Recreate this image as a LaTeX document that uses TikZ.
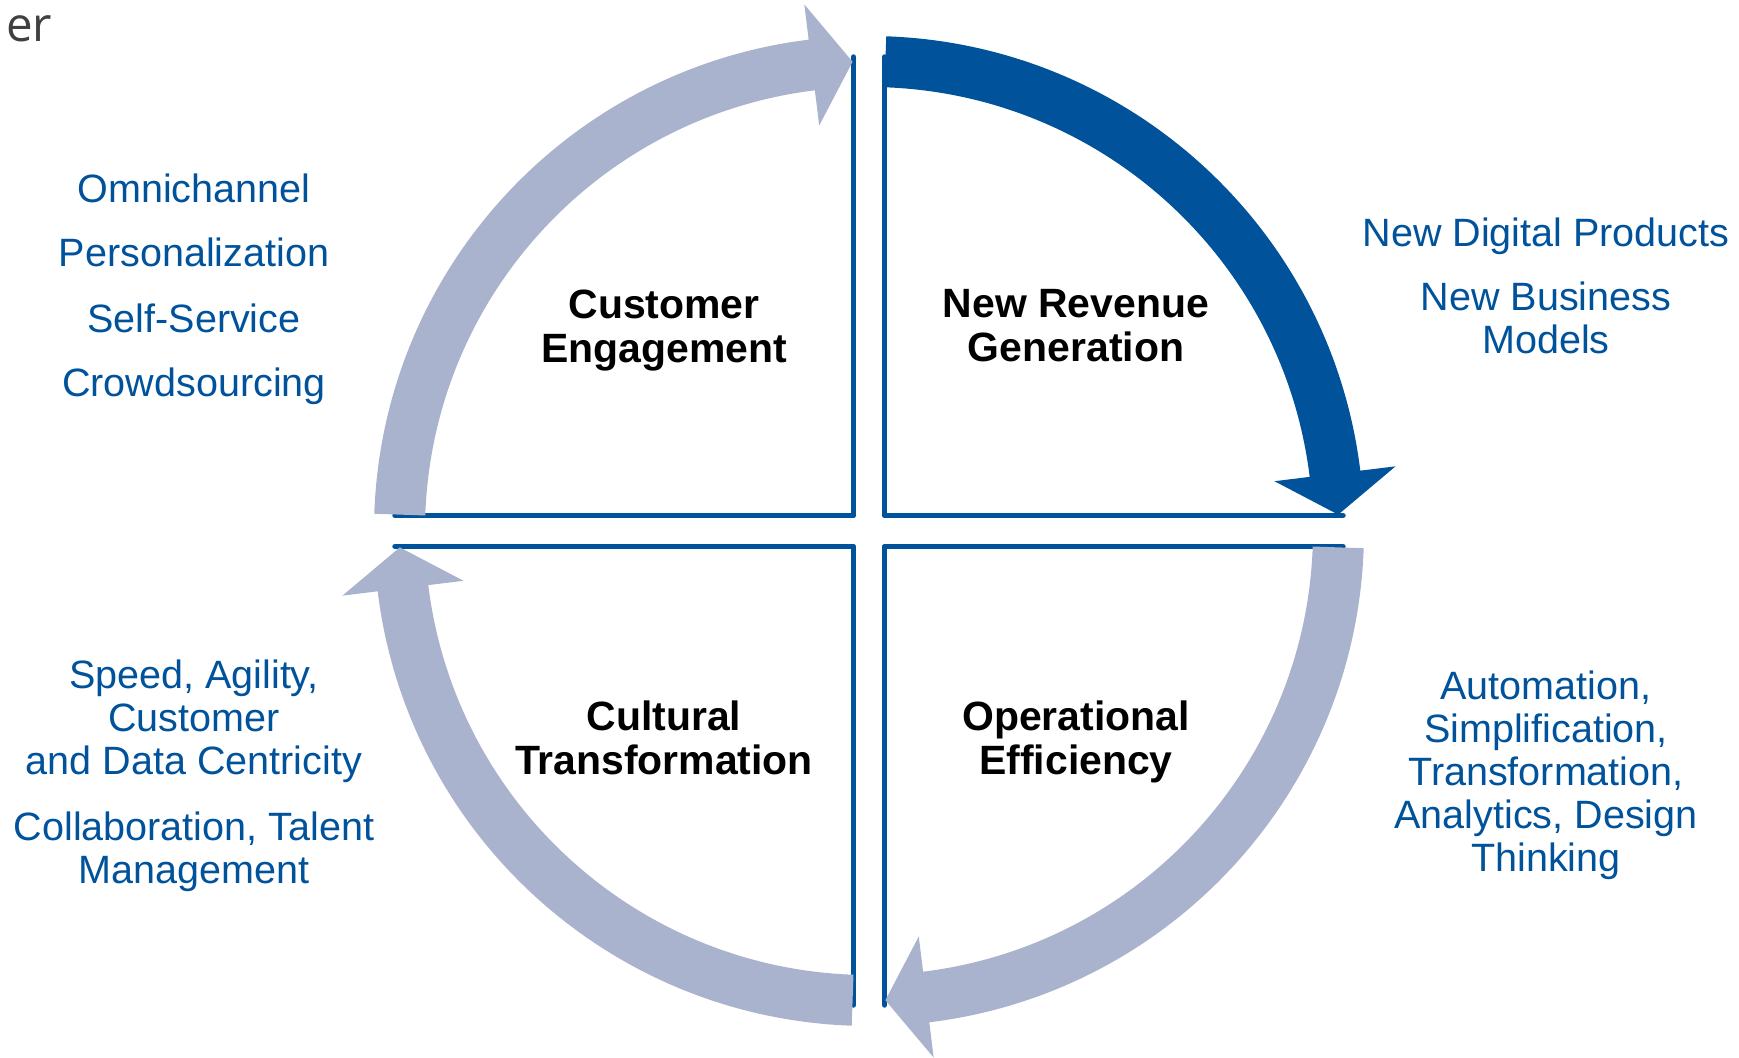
\documentclass[tikz,border=0pt]{standalone}
\usepackage{fontspec}
\setmainfont{Liberation Sans}
\newfontfamily\pagefont{Open Sans}
\definecolor{qblue}{RGB}{0,82,155}
\definecolor{qgrey}{RGB}{170,179,205}
\tikzset{
  quad/.style={qblue,line width=3.1pt,line cap=round,line join=round},
  title/.style={font=\fontsize{23.3}{25}\selectfont\bfseries,align=center},
  item/.style={text=qblue,font=\fontsize{22.5}{24.5}\selectfont,align=center},
}
\begin{document}
\begin{tikzpicture}[x=0.02cm,y=0.02cm]
                  \useasboundingbox (-869,-527) rectangle (870,531);
                  \node[anchor=base west,text=darkgray,font=\pagefont\fontsize{27}{30}\selectfont] (er) at (-869,489) {er};
                  % the four corners of the square
                  \foreach \sx/\sy in {-1/1,1/1,1/-1,-1/-1} {
                          \draw[quad] (\sx*15.5,\sy*474) -- (\sx*15.5,\sy*15.5) -- (\sx*474,\sy*15.5);
                      }
                  % arrows going round
                  \foreach \a/\c in {180/qgrey,90/qblue,0/qgrey,270/qgrey} {
                          \fill[\c] (\a-2:495) arc[start angle=\a-2,end angle=\a-83,radius=495]
                              -- (\a-83:530.5) -- (\a-88:469.5) -- (\a-83:408.5)
                              -- (\a-83:444) arc[start angle=\a-83,end angle=\a-2,radius=444] -- cycle;
                      }
                  \node[title] (ce) at (-205,200) {Customer\\Engagement};
                  \node[title] (nrg) at (207,205) {New Revenue\\Generation};
                  \node[title] (ct) at (-205,-206.5) {Cultural\\Transformation};
                  \node[title] (oe) at (207,-210.5) {Operational\\Efficiency};
                  \node[item] (omni) at (-675,343) {Omnichannel};
                  \node[item] (pers) at (-675,279) {Personalization};
                  \node[item] (self) at (-675,213) {Self-Service};
                  \node[item] (crowd) at (-675,144.5) {Crowdsourcing};
                  \node[item] (digi) at (677,294.5) {New Digital Products};
                  \node[item] (biz) at (677,213) {New Business\\Models};
                  \node[item] (speed) at (-675,-190.5) {Speed, Agility,\\Customer\\and Data Centricity};
                  \node[item] (collab) at (-675,-320.5) {Collaboration, Talent\\Management};
                  \node[item] (auto) at (677,-244.5) {Automation,\\Simplification,\\Transformation,\\Analytics, Design\\Thinking};
              \end{tikzpicture}
\end{document}
